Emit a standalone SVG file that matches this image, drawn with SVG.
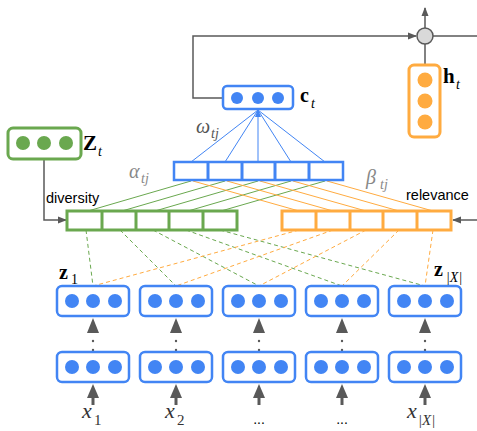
<svg xmlns="http://www.w3.org/2000/svg" width="477" height="431" viewBox="0 0 477 431">
<defs>
<marker id="ag" markerWidth="9" markerHeight="8" refX="8" refY="4" orient="auto" markerUnits="userSpaceOnUse"><path d="M0,0.5 L9,4 L0,7.5z" fill="#595959"/></marker>
<marker id="ab" markerWidth="8" markerHeight="8" refX="7" refY="4" orient="auto" markerUnits="userSpaceOnUse"><path d="M0,1 L8,4 L0,7z" fill="#4285f4"/></marker>
</defs>
<style>
.bbox{fill:#fff;stroke:#4285f4;stroke-width:2.5}
.bd{fill:#4285f4}
.gbox{fill:#fff;stroke:#6aa84f;stroke-width:3}
.gd{fill:#6aa84f}
.obox{fill:#fff;stroke:#ffab40;stroke-width:3}
.od{fill:#ffab40}
.gl{stroke:#6aa84f;stroke-width:1;fill:none}
.ol{stroke:#ffab40;stroke-width:1;fill:none}
.bl{stroke:#4285f4;stroke-width:1;fill:none}
.gdash{stroke:#6aa84f;stroke-width:1;stroke-dasharray:4,3;fill:none}
.odash{stroke:#ffab40;stroke-width:1;stroke-dasharray:4,3;fill:none}
.gray{stroke:#595959;stroke-width:1.5;fill:none}
.thick{stroke:#595959;stroke-width:3;fill:none}
.tri{fill:#595959}
.math{font-family:"Liberation Serif",serif;font-style:italic}
.bold{font-family:"Liberation Serif",serif;font-weight:bold}
.sans{font-family:"Liberation Sans",Arial,sans-serif;font-size:14.5px;fill:#000}
</style>

<g id="connectors">
  <polyline class="gray" points="223,98 193,98 193,36 416,36" marker-end="url(#ag)"/>
  <line class="gray" x1="425" y1="28" x2="425" y2="8" marker-end="url(#ag)"/>
  <line class="gray" x1="433" y1="36" x2="477" y2="36"/>
  <line class="gray" x1="425" y1="44" x2="425" y2="65"/>
  <polyline class="gray" points="44,159 44,220 66,220" marker-end="url(#ag)"/>
  <line class="gray" x1="477" y1="220" x2="453" y2="220" marker-end="url(#ag)"/>
  <line class="bl" x1="191" y1="162" x2="258" y2="110"/>
  <line class="bl" x1="225" y1="162" x2="258" y2="110"/>
  <line class="bl" x1="258" y1="162" x2="258" y2="110" marker-end="url(#ab)"/>
  <line class="bl" x1="291" y1="162" x2="258" y2="110"/>
  <line class="bl" x1="325" y1="162" x2="258" y2="110"/>
  <line class="gl" x1="191" y1="181" x2="88" y2="211"/>
  <line class="gl" x1="225" y1="181" x2="122" y2="211"/>
  <line class="gl" x1="258" y1="181" x2="155" y2="211"/>
  <line class="gl" x1="291" y1="181" x2="188" y2="211"/>
  <line class="gl" x1="325" y1="181" x2="221" y2="211"/>
  <line class="ol" x1="193" y1="181" x2="299" y2="211"/>
  <line class="ol" x1="227" y1="181" x2="333" y2="211"/>
  <line class="ol" x1="260" y1="181" x2="366" y2="211"/>
  <line class="ol" x1="293" y1="181" x2="399" y2="211"/>
  <line class="ol" x1="327" y1="181" x2="433" y2="211"/>
  <line class="gdash" x1="86" y1="230" x2="93" y2="286"/>
  <line class="gdash" x1="120" y1="230" x2="176" y2="286"/>
  <line class="gdash" x1="153" y1="230" x2="259" y2="286"/>
  <line class="gdash" x1="186" y1="230" x2="342" y2="286"/>
  <line class="gdash" x1="220" y1="230" x2="425" y2="286"/>
  <line class="odash" x1="299" y1="230" x2="93" y2="286"/>
  <line class="odash" x1="333" y1="230" x2="176" y2="286"/>
  <line class="odash" x1="366" y1="230" x2="259" y2="286"/>
  <line class="odash" x1="399" y1="230" x2="342" y2="286"/>
  <line class="odash" x1="433" y1="230" x2="425" y2="286"/>
  <g id="stack-arrows">
    <g transform="translate(93,0)">
      <polygon class="tri" points="0,318 -6,333 6,333"/><circle cx="0" cy="341" r="1.2" fill="#595959"/><circle cx="0" cy="350" r="1.2" fill="#595959"/>
      <line class="thick" x1="0" y1="405" x2="0" y2="396"/><polygon class="tri" points="0,384 -6,398 6,398"/>
    </g>
    <g transform="translate(176,0)">
      <polygon class="tri" points="0,318 -6,333 6,333"/><circle cx="0" cy="341" r="1.2" fill="#595959"/><circle cx="0" cy="350" r="1.2" fill="#595959"/>
      <line class="thick" x1="0" y1="405" x2="0" y2="396"/><polygon class="tri" points="0,384 -6,398 6,398"/>
    </g>
    <g transform="translate(259,0)">
      <polygon class="tri" points="0,318 -6,333 6,333"/><circle cx="0" cy="341" r="1.2" fill="#595959"/><circle cx="0" cy="350" r="1.2" fill="#595959"/>
      <line class="thick" x1="0" y1="405" x2="0" y2="396"/><polygon class="tri" points="0,384 -6,398 6,398"/>
    </g>
    <g transform="translate(342,0)">
      <polygon class="tri" points="0,318 -6,333 6,333"/><circle cx="0" cy="341" r="1.2" fill="#595959"/><circle cx="0" cy="350" r="1.2" fill="#595959"/>
      <line class="thick" x1="0" y1="405" x2="0" y2="396"/><polygon class="tri" points="0,384 -6,398 6,398"/>
    </g>
    <g transform="translate(425,0)">
      <polygon class="tri" points="0,318 -6,333 6,333"/><circle cx="0" cy="341" r="1.2" fill="#595959"/><circle cx="0" cy="350" r="1.2" fill="#595959"/>
      <line class="thick" x1="0" y1="405" x2="0" y2="396"/><polygon class="tri" points="0,384 -6,398 6,398"/>
    </g>
  </g>
  <text class="sans" x="46" y="203">diversity</text>
  <text class="sans" x="406" y="200">relevance</text>
</g>

<g id="combine">
  <circle cx="425" cy="36" r="8" fill="#d9d9d9" stroke="#595959" stroke-width="1.5"/>
</g>

<g id="ht">
  <rect x="409" y="65" width="31" height="72" rx="5" class="obox" stroke-width="2.5"/>
  <circle cx="425" cy="80" r="7.5" class="od"/>
  <circle cx="425" cy="101" r="7.5" class="od"/>
  <circle cx="425" cy="122" r="7.5" class="od"/>
  <text class="bold" x="443" y="83" font-size="21" fill="#000">h</text>
  <text class="math" x="456" y="89" font-size="14" fill="#000">t</text>
</g>

<g id="ct">
  <rect x="223" y="86" width="70" height="23" rx="4" class="bbox"/>
  <circle cx="237" cy="98" r="6" class="bd"/>
  <circle cx="258" cy="98" r="6" class="bd"/>
  <circle cx="278" cy="98" r="6" class="bd"/>
  <text class="bold" x="300" y="102" font-size="20" fill="#000">c</text>
  <text class="math" x="311" y="108" font-size="14" fill="#000">t</text>
</g>

<g id="Zt">
  <rect x="8" y="128" width="73" height="31" rx="5" class="gbox" stroke-width="2.5"/>
  <circle cx="23" cy="143" r="7" class="gd"/>
  <circle cx="44" cy="143" r="7" class="gd"/>
  <circle cx="66" cy="143" r="7" class="gd"/>
  <text class="bold" x="83" y="150" font-size="21" fill="#000">Z</text>
  <text class="math" x="98" y="156" font-size="14" fill="#000">t</text>
</g>

<g id="omega-att">
  <rect x="174" y="162" width="169" height="18" class="bbox" stroke-width="3"/>
  <path d="M208,162V180M242,162V180M275,162V180M309,162V180" stroke="#4285f4" stroke-width="3"/>
  <text class="math" x="196" y="133" font-size="20" fill="#555">ω</text>
  <text class="math" x="211" y="138" font-size="14" fill="#555">tj</text>
</g>

<g id="alpha-att">
  <rect x="67" y="211" width="170" height="19" class="gbox"/>
  <path d="M102,211V230M136,211V230M169,211V230M203,211V230" stroke="#6aa84f" stroke-width="3"/>
  <text class="math" x="129" y="178" font-size="20" fill="#888">α</text>
  <text class="math" x="141" y="183" font-size="14" fill="#888">tj</text>
</g>

<g id="beta-att">
  <rect x="282" y="211" width="169" height="19" class="obox"/>
  <path d="M316,211V230M350,211V230M383,211V230M417,211V230" stroke="#ffab40" stroke-width="3"/>
  <text class="math" x="366" y="184" font-size="20" fill="#888">β</text>
  <text class="math" x="380" y="189" font-size="14" fill="#888">tj</text>
</g>

<g id="z1">
  <rect x="57" y="286" width="72" height="30" rx="5" class="bbox"/>
  <circle cx="72" cy="301" r="7" class="bd"/><circle cx="93" cy="301" r="7" class="bd"/><circle cx="115" cy="301" r="7" class="bd"/>
  <text class="bold" x="59" y="279" font-size="20" fill="#000">z</text>
  <text font-family="Liberation Serif,serif" x="71" y="284" font-size="14" fill="#000">1</text>
</g>
<g id="z2">
  <rect x="140" y="286" width="72" height="30" rx="5" class="bbox"/>
  <circle cx="155" cy="301" r="7" class="bd"/><circle cx="176" cy="301" r="7" class="bd"/><circle cx="198" cy="301" r="7" class="bd"/>
</g>
<g id="z3">
  <rect x="223" y="286" width="72" height="30" rx="5" class="bbox"/>
  <circle cx="238" cy="301" r="7" class="bd"/><circle cx="259" cy="301" r="7" class="bd"/><circle cx="281" cy="301" r="7" class="bd"/>
</g>
<g id="z4">
  <rect x="306" y="286" width="72" height="30" rx="5" class="bbox"/>
  <circle cx="321" cy="301" r="7" class="bd"/><circle cx="342" cy="301" r="7" class="bd"/><circle cx="364" cy="301" r="7" class="bd"/>
</g>
<g id="z5">
  <rect x="389" y="286" width="72" height="30" rx="5" class="bbox"/>
  <circle cx="404" cy="301" r="7" class="bd"/><circle cx="425" cy="301" r="7" class="bd"/><circle cx="447" cy="301" r="7" class="bd"/>
  <text class="bold" x="434" y="276" font-size="20" fill="#000">z</text>
  <text class="math" x="446" y="282" font-size="14" fill="#000">|X|</text>
</g>

<g id="e1">
  <rect x="57" y="352" width="72" height="30" rx="5" class="bbox"/>
  <circle cx="72" cy="367" r="7" class="bd"/><circle cx="93" cy="367" r="7" class="bd"/><circle cx="115" cy="367" r="7" class="bd"/>
  <text class="math" x="82" y="418" font-size="22" fill="#333">x</text>
  <text font-family="Liberation Serif,serif" x="94" y="425" font-size="15" fill="#333">1</text>
</g>
<g id="e2">
  <rect x="140" y="352" width="72" height="30" rx="5" class="bbox"/>
  <circle cx="155" cy="367" r="7" class="bd"/><circle cx="176" cy="367" r="7" class="bd"/><circle cx="198" cy="367" r="7" class="bd"/>
  <text class="math" x="165" y="418" font-size="22" fill="#333">x</text>
  <text font-family="Liberation Serif,serif" x="177" y="425" font-size="15" fill="#333">2</text>
</g>
<g id="e3">
  <rect x="223" y="352" width="72" height="30" rx="5" class="bbox"/>
  <circle cx="238" cy="367" r="7" class="bd"/><circle cx="259" cy="367" r="7" class="bd"/><circle cx="281" cy="367" r="7" class="bd"/>
  <text font-family="Liberation Sans,sans-serif" x="259" y="424" font-size="14" text-anchor="middle" fill="#000">...</text>
</g>
<g id="e4">
  <rect x="306" y="352" width="72" height="30" rx="5" class="bbox"/>
  <circle cx="321" cy="367" r="7" class="bd"/><circle cx="342" cy="367" r="7" class="bd"/><circle cx="364" cy="367" r="7" class="bd"/>
  <text font-family="Liberation Sans,sans-serif" x="342" y="424" font-size="14" text-anchor="middle" fill="#000">...</text>
</g>
<g id="e5">
  <rect x="389" y="352" width="72" height="30" rx="5" class="bbox"/>
  <circle cx="404" cy="367" r="7" class="bd"/><circle cx="425" cy="367" r="7" class="bd"/><circle cx="447" cy="367" r="7" class="bd"/>
  <text class="math" x="407" y="418" font-size="22" fill="#333">x</text>
  <text class="math" x="418" y="425" font-size="15" fill="#333">|X|</text>
</g>
</svg>
